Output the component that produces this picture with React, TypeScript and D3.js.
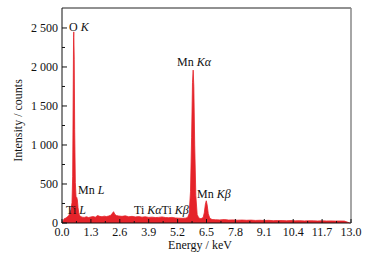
import React from "react";
import * as d3 from "d3";

const energy = [
  0.0, 0.05, 0.1, 0.15, 0.2, 0.25, 0.3, 0.35, 0.4, 0.45, 0.48, 0.5, 0.52, 0.53, 0.55, 0.57, 0.6, 0.63, 0.66, 0.69, 0.72, 0.76, 0.8,
  0.9, 1.0, 1.1, 1.2, 1.3, 1.4, 1.5, 1.6, 1.7, 1.8, 1.9, 2.0, 2.1, 2.2, 2.28, 2.32, 2.38, 2.45, 2.55, 2.7, 2.85, 3.0, 3.15, 3.3,
  3.45, 3.6, 3.75, 3.9, 4.05, 4.2, 4.35, 4.5, 4.65, 4.8, 4.95, 5.1, 5.25, 5.4, 5.55, 5.65, 5.72, 5.78, 5.83, 5.87, 5.9, 5.93, 5.97,
  6.02, 6.08, 6.15, 6.25, 6.35, 6.4, 6.45, 6.49, 6.53, 6.58, 6.65, 6.75, 6.9, 7.1, 7.3, 7.5, 7.7, 7.9, 8.1, 8.3, 8.5, 8.7, 8.9,
  9.1, 9.3, 9.5, 9.7, 9.9, 10.1, 10.3, 10.5, 10.7, 10.9, 11.1, 11.3, 11.5, 11.7, 11.9, 12.1, 12.3, 12.5, 12.7, 12.95, 13.0,
];
const counts = [
  0, 30, 55, 60, 70, 80, 95, 120, 170, 260, 600, 1500, 2380, 2450, 2100, 1200, 520, 340, 330, 300, 200, 120, 90,
  75, 72, 80, 70, 78, 82, 75, 95, 85, 80, 88, 82, 90, 100, 130, 145, 110, 95, 90, 85, 92, 80, 85, 78,
  82, 75, 80, 72, 75, 70, 72, 78, 70, 68, 72, 65, 62, 60, 62, 70, 120, 400, 1100, 1800, 1960, 1750, 1000,
  350, 110, 65, 55, 70, 130, 240, 285, 230, 120, 60, 45, 42, 40, 44, 38, 40, 36, 38, 35, 37, 33,
  35, 32, 34, 30, 32, 31, 29, 31, 28, 30, 27, 29, 28, 26, 28, 26, 27, 25, 26, 25, 0,
];
const xTicks = [0.0, 1.3, 2.6, 3.9, 5.2, 6.5, 7.8, 9.1, 10.4, 11.7, 13.0];
const yTicks = [0, 500, 1000, 1500, 2000, 2500];

const W = 379;
const H = 257;
const left = 62;
const right = 351;
const top = 8;
const bottom = 223;
const font = "'Liberation Serif', 'Times New Roman', serif";
const red = "#e5232a";
const fs = 12;

export default function App() {
  const x = d3.scaleLinear().domain([0, 13]).range([left, right]);
  const y = d3.scaleLinear().domain([0, 2756]).range([bottom, top]);
  const pts: [number, number][] = energy.map((e, i) => [e, counts[i]]);
  const area = d3
    .area<[number, number]>()
    .x((d) => x(d[0]))
    .y0(y(0))
    .y1((d) => y(d[1]))(pts);

  const xMinor = d3.range(0.65, 13, 1.3);
  const yMinor = d3.range(250, 2750, 500);
  const fmt = (v: number) => (v >= 1000 ? `${Math.floor(v / 1000)} ${String(v % 1000).padStart(3, "0")}` : String(v));

  return (
    <svg
      width={W}
      height={H}
      style={{ position: "absolute", left: 0, top: 0, background: "#fff" }}
      fontFamily={font}
    >
      <path d={area ?? ""} fill={red} stroke={red} strokeWidth={0.8} />
      <line x1={left} x2={right} y1={top} y2={top} stroke="#222" strokeWidth={1} />
      <line x1={right} x2={right} y1={top} y2={bottom} stroke="#888" strokeWidth={1.5} />
      <line x1={left} x2={left} y1={top} y2={bottom} stroke="#111" strokeWidth={1} />
      <line x1={left} x2={right} y1={bottom} y2={bottom} stroke="#111" strokeWidth={1} />
      {yTicks.map((t) => (
        <g key={"y" + t}>
          <line x1={left} x2={left + 5} y1={y(t)} y2={y(t)} stroke="#111" />
          <text x={left - 4} y={y(t) + 4} textAnchor="end" fontSize={fs} fill="#111">
            {fmt(t)}
          </text>
        </g>
      ))}
      {yMinor.map((t) => (
        <line key={"ym" + t} x1={left} x2={left + 3} y1={y(t)} y2={y(t)} stroke="#111" />
      ))}
      {xTicks.map((t) => (
        <g key={"x" + t}>
          <line x1={x(t)} x2={x(t)} y1={bottom} y2={bottom - 4} stroke="#111" />
          <text x={x(t)} y={bottom + 12.5} textAnchor="middle" fontSize={fs} fill="#111">
            {t.toFixed(1)}
          </text>
        </g>
      ))}
      {xMinor.map((t) => (
        <line key={"xm" + t} x1={x(t)} x2={x(t)} y1={bottom} y2={bottom - 2} stroke="#111" />
      ))}
      <text
        transform={`translate(22,${(top + bottom) / 2 + 5}) rotate(-90)`}
        textAnchor="middle"
        fontSize={fs}
        fill="#111"
      >
        Intensity / counts
      </text>
      <text x={200} y={249} textAnchor="middle" fontSize={fs} fill="#111">
        Energy / keV
      </text>
      <g fontSize={fs} fill="#111">
        <text x={69} y={31}>
          O <tspan fontStyle="italic">K</tspan>
        </text>
        <text x={177} y={66}>
          Mn <tspan fontStyle="italic">Kα</tspan>
        </text>
        <text x={78} y={194}>
          Mn <tspan fontStyle="italic">L</tspan>
        </text>
        <text x={66} y={214}>
          Ti <tspan fontStyle="italic">L</tspan>
        </text>
        <text x={134} y={214}>
          Ti <tspan fontStyle="italic">Kα</tspan>Ti <tspan fontStyle="italic">Kβ</tspan>
        </text>
        <text x={197} y={198}>
          Mn <tspan fontStyle="italic">Kβ</tspan>
        </text>
      </g>
    </svg>
  );
}
